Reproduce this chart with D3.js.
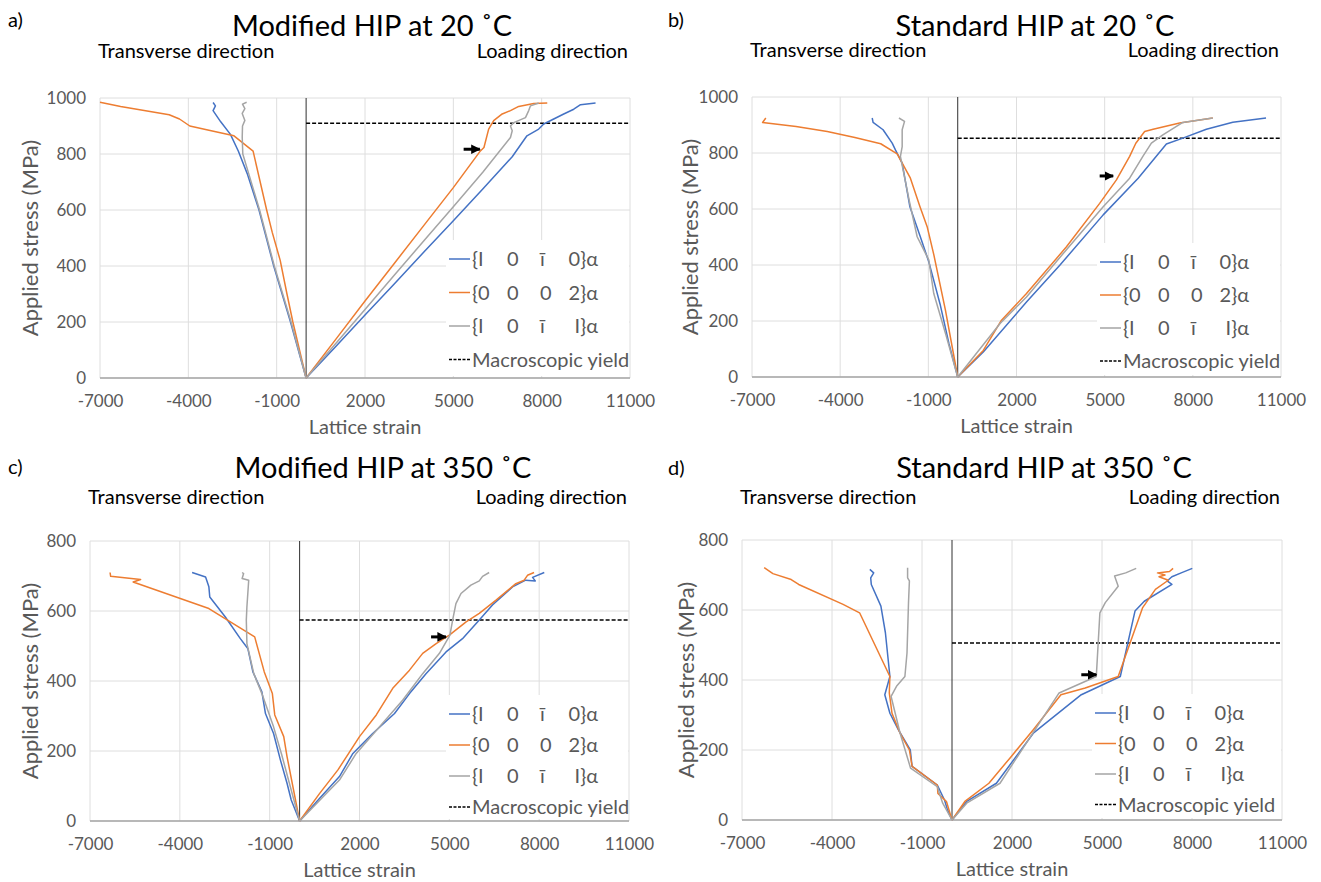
<!DOCTYPE html>
<html>
<head>
<meta charset="utf-8">
<script src="https://cdn.jsdelivr.net/npm/d3@7/dist/d3.min.js"></script>
<style>
  body { margin: 0; background: #fff; }
  svg { font-family: Lato, "Open Sans", sans-serif; }
</style>
</head>
<body>
<svg id="fig" width="1321" height="882"></svg>
<script>
var xTicks = [-7000, -4000, -1000, 2000, 5000, 8000, 11000];
var seriesKeys = ["1010", "0002", "1011"];
var seriesColors = ["#4472C4", "#ED7D31", "#A5A5A5"];
var legendRows = [["{I", "0", "ī", "0}α"], ["{0", "0", "0", "2}α"], ["{I", "0", "ī", "I}α"]];
var legendYield = "Macroscopic yield";

// a) Modified HIP at 20 C  [strain, stress]
var aTr1010 = [[0,0],[-530,200],[-1100,400],[-1600,600],[-2000,730],[-2300,810],[-2570,870],[-2900,915],[-3160,955],[-3080,972],[-3160,984]];
var aTr0002 = [[0,0],[-450,200],[-650,300],[-880,420],[-1150,520],[-1340,600],[-1800,810],[-2450,865],[-3300,885],[-3950,900],[-4300,925],[-4650,940],[-6300,970],[-7000,985]];
var aTr1011 = [[0,0],[-510,200],[-1080,400],[-1580,600],[-1950,730],[-2150,800],[-2170,860],[-2160,900],[-2080,920],[-2170,945],[-2080,962],[-2160,978],[-2020,985]];
var aLd1010 = [[0,0],[1000,112],[2000,225],[3000,337],[4000,450],[5000,562],[6000,675],[7000,790],[7500,865],[7900,889],[8070,907],[8410,925],[8750,943],[9090,960],[9320,976],[9830,982]];
var aLd0002 = [[0,0],[1000,137],[2000,275],[3000,410],[4000,545],[5000,680],[5920,811],[6040,823],[6200,889],[6370,919],[6660,943],[6940,955],[7220,970],[7730,980],[8190,982]];
var aLd1011 = [[0,0],[1000,122],[2000,245],[3000,368],[4000,490],[5000,612],[6000,735],[6940,859],[7000,883],[6940,900],[7050,912],[7450,930],[7560,955],[7620,972],[7900,982]];
var aYield = 910;
var aArrow = [[5350,817],[5900,817]];

// b) Standard HIP at 20 C
var bTr1010 = [[0,0],[-300,120],[-600,260],[-985,412],[-1270,500],[-1630,609],[-1890,764],[-2120,811],[-2230,835],[-2540,883],[-2880,909],[-2910,925]];
var bTr0002 = [[0,0],[-420,240],[-820,440],[-1040,537],[-1290,610],[-1610,710],[-2060,797],[-2620,833],[-3500,855],[-4440,877],[-5500,895],[-6640,909],[-6530,925]];
var bTr1011 = [[0,0],[-400,150],[-815,298],[-985,418],[-1380,501],[-1650,630],[-1950,788],[-1890,823],[-1890,883],[-1810,913],[-2000,925]];
var bLd1010 = [[0,0],[870,89],[2340,268],[3480,400],[4950,579],[6140,710],[7100,832],[7660,853],[8460,885],[9360,910],[10490,925]];
var bLd0002 = [[0,0],[870,95],[1490,203],[2340,298],[3700,465],[4830,620],[5400,704],[5850,788],[6060,835],[6360,877],[6650,885],[7550,907],[8120,916],[8680,925]];
var bLd1011 = [[0,0],[1440,191],[2340,286],[3590,441],[4950,608],[5850,710],[6300,788],[6590,835],[6980,865],[7660,909],[8680,925]];
var bYield = 853;
var bArrow = [[4830,718],[5290,718]];

// c) Modified HIP at 350 C
var cTr1010 = [[0,0],[-280,60],[-420,108],[-640,174],[-870,250],[-1140,307],[-1260,369],[-1560,426],[-1730,493],[-1980,521],[-2480,583],[-3000,640],[-3030,669],[-3140,697],[-3590,710]];
var cTr0002 = [[0,0],[-420,184],[-530,241],[-830,303],[-910,364],[-1180,426],[-1500,526],[-3030,607],[-5560,683],[-5310,690],[-6310,699],[-6330,710]];
var cTr1011 = [[0,0],[-310,98],[-600,190],[-870,269],[-1260,364],[-1530,421],[-1760,507],[-1780,574],[-1760,612],[-1700,688],[-1920,693],[-1870,707],[-1920,710]];
var cLd1010 = [[0,0],[670,65],[1330,127],[1780,193],[2440,250],[3170,307],[3670,364],[4220,421],[4890,483],[5440,521],[6000,574],[6440,617],[7110,669],[7550,688],[7870,686],[7780,696],[8170,710]];
var cLd0002 = [[0,0],[670,79],[1280,146],[2000,241],[2560,303],[3110,379],[3670,431],[4110,479],[4560,507],[5000,531],[5560,569],[6000,593],[6560,631],[7220,678],[7500,688],[7610,702],[7830,710]];
var cLd1011 = [[0,0],[1330,117],[1890,193],[2670,269],[3440,345],[4110,421],[4670,479],[5020,531],[5110,574],[5220,621],[5390,650],[5720,674],[6000,686],[6110,699],[6330,710]];
var cYield = 574;
var cArrow = [[4390,526],[4890,526]];

// d) Standard HIP at 350 C
var dTr1010 = [[0,0],[-150,29],[-250,57],[-490,100],[-1330,153],[-1390,200],[-1790,258],[-2070,305],[-2240,358],[-2070,410],[-2220,535],[-2370,611],[-2690,673],[-2710,692],[-2610,706],[-2740,716]];
var dTr0002 = [[0,0],[-185,53],[-470,76],[-490,100],[-1330,153],[-1420,200],[-1730,248],[-2000,305],[-2090,363],[-2070,410],[-3080,592],[-3630,616],[-5110,673],[-5360,687],[-5970,704],[-6260,721]];
var dTr1011 = [[0,0],[-310,48],[-490,95],[-1380,148],[-1730,248],[-2030,353],[-1850,382],[-1570,410],[-1500,477],[-1450,621],[-1420,683],[-1480,692],[-1480,721]];
var dLd1010 = [[0,0],[490,53],[1480,105],[2710,248],[4310,358],[5610,410],[6100,597],[6410,625],[7330,673],[7170,683],[7330,695],[7640,706],[8010,719]];
var dLd0002 = [[0,0],[430,53],[1230,105],[1970,181],[2710,258],[3630,358],[4440,377],[5540,410],[6350,606],[6780,659],[7210,685],[6900,695],[7100,700],[6850,706],[7250,710],[7370,719]];
var dLd1011 = [[0,0],[490,48],[1600,105],[3570,363],[4810,410],[4930,592],[5110,621],[5540,668],[5420,697],[5790,706],[6140,719]];
var dYield = 506;
var dArrow = [[4310,415],[4810,415]];

var panels = [
  {label: "a)", title: "Modified HIP at 20 ˚C", yMax: 1000, left: 100, right: 630, top: 98, bottom: 378,
   ox: 0, oy: 0, titleX: 372, titleY: 36, subY: 58, ylabX: 30, legX: 446, legY: 240, legRow: 33.5,
   series: [[aTr1010, aLd1010], [aTr0002, aLd0002], [aTr1011, aLd1011]], yld: aYield, arrow: aArrow},
  {label: "b)", title: "Standard HIP at 20 ˚C", yMax: 1000, left: 752, right: 1281, top: 97, bottom: 377,
   ox: 660, oy: 0, titleX: 1035, titleY: 36, subY: 57, ylabX: 690, legX: 1097, legY: 243, legRow: 33,
   series: [[bTr1010, bLd1010], [bTr0002, bLd0002], [bTr1011, bLd1011]], yld: bYield, arrow: bArrow},
  {label: "c)", title: "Modified HIP at 350 ˚C", yMax: 800, left: 90, right: 629, top: 541, bottom: 821,
   ox: 0, oy: 447, titleX: 383, titleY: 478, subY: 504, ylabX: 30, legX: 446, legY: 695, legRow: 31,
   series: [[cTr1010, cLd1010], [cTr0002, cLd0002], [cTr1011, cLd1011]], yld: cYield, arrow: cArrow},
  {label: "d)", title: "Standard HIP at 350 ˚C", yMax: 800, left: 742, right: 1282, top: 540, bottom: 820,
   ox: 660, oy: 448, titleX: 1044, titleY: 478, subY: 504, ylabX: 686, legX: 1092, legY: 694, legRow: 30.5,
   series: [[dTr1010, dLd1010], [dTr0002, dLd0002], [dTr1011, dLd1011]], yld: dYield, arrow: dArrow}
];

var svg = d3.select("#fig");

svg.append("defs").append("marker")
  .attr("id", "arrowHead")
  .attr("viewBox", "0 0 10 10")
  .attr("refX", 9).attr("refY", 5)
  .attr("markerWidth", 3.2).attr("markerHeight", 3.2)
  .attr("orient", "auto")
  .append("path")
  .attr("d", "M0,0 L10,5 L0,10 z")
  .attr("fill", "#000");

function drawPanel(p) {
  var x = d3.scaleLinear().domain([-7000, 11000]).range([p.left, p.right]);
  var y = d3.scaleLinear().domain([0, p.yMax]).range([p.bottom, p.top]);
  var yTicks = d3.range(0, p.yMax + 1, 200);

  var g = svg.append("g").attr("class", "panel");

  // grid
  g.append("g").selectAll("line").data(xTicks).enter().append("line")
    .attr("x1", function(d) { return x(d); }).attr("x2", function(d) { return x(d); })
    .attr("y1", p.top).attr("y2", p.bottom)
    .attr("stroke", "#dedede").attr("stroke-width", 1);
  g.append("g").selectAll("line").data(yTicks).enter().append("line")
    .attr("x1", p.left).attr("x2", p.right)
    .attr("y1", function(d) { return y(d); }).attr("y2", function(d) { return y(d); })
    .attr("stroke", "#dedede").attr("stroke-width", 1);

  g.append("line")
    .attr("x1", p.left).attr("x2", p.right)
    .attr("y1", p.bottom).attr("y2", p.bottom)
    .attr("stroke", "#a6a6a6").attr("stroke-width", 1.5);

  var fmt = function(d) { return String(d); };  // plain hyphen like the original
  var xAxis = g.append("g")
    .attr("transform", "translate(0," + p.bottom + ")")
    .call(d3.axisBottom(x).tickValues(xTicks).tickSize(0).tickPadding(17).tickFormat(fmt));
  var yAxis = g.append("g")
    .attr("transform", "translate(" + p.left + ",0)")
    .call(d3.axisLeft(y).tickValues(yTicks).tickSize(0).tickPadding(14).tickFormat(fmt));
  [xAxis, yAxis].forEach(function(a) {
    a.select(".domain").remove();
    a.selectAll("text")
      .attr("fill", "#595959")
      .style("font-size", "17px")
      .style("font-family", "Lato, 'Open Sans', sans-serif");
  });

  // zero strain line
  g.append("line")
    .attr("x1", x(0)).attr("x2", x(0))
    .attr("y1", p.top).attr("y2", p.bottom)
    .attr("stroke", "#303030").attr("stroke-width", 1);

  // macroscopic yield
  g.append("line")
    .attr("x1", x(0)).attr("x2", p.right)
    .attr("y1", y(p.yld)).attr("y2", y(p.yld))
    .attr("stroke", "#000").attr("stroke-width", 1.5)
    .attr("stroke-dasharray", "4,2");

  var line = d3.line()
    .x(function(d) { return x(d[0]); })
    .y(function(d) { return y(d[1]); });

  p.series.forEach(function(pair, i) {
    pair.forEach(function(arr) {
      g.append("path")
        .datum(arr)
        .attr("d", line)
        .attr("fill", "none")
        .attr("stroke", seriesColors[i])
        .attr("stroke-width", 1.5)
        .attr("stroke-linejoin", "round");
    });
  });

  g.append("path")
    .datum(p.arrow)
    .attr("d", line)
    .attr("stroke", "#000")
    .attr("stroke-width", 3)
    .attr("marker-end", "url(#arrowHead)");

  // legend
  var leg = g.append("g");
  leg.append("rect")
    .attr("x", p.legX).attr("y", p.legY)
    .attr("width", p.right - p.legX - 1).attr("height", p.bottom - p.legY - 2)
    .attr("fill", "#fff");
  var tx = p.legX + 26;
  legendRows.forEach(function(row, i) {
    var cy = p.legY + 19 + i * p.legRow;
    leg.append("line")
      .attr("x1", p.legX + 3).attr("x2", p.legX + 24)
      .attr("y1", cy).attr("y2", cy)
      .attr("stroke", seriesColors[i]).attr("stroke-width", 1.5);
    var offs = [0, 35, 68];
    row.slice(0, 3).forEach(function(s, j) {
      leg.append("text")
        .attr("x", tx + offs[j]).attr("y", cy).attr("dy", "0.35em")
        .attr("fill", "#595959").style("font-size", "20px")
        .text(s);
    });
    leg.append("text")
      .attr("x", tx + 126).attr("y", cy).attr("dy", "0.35em")
      .attr("text-anchor", "end")
      .attr("fill", "#595959").style("font-size", "20px")
      .text(row[3]);
  });
  var ly = p.legY + 19 + 3 * p.legRow;
  leg.append("line")
    .attr("x1", p.legX + 3).attr("x2", p.legX + 24)
    .attr("y1", ly).attr("y2", ly)
    .attr("stroke", "#000").attr("stroke-width", 1.5)
    .attr("stroke-dasharray", "3,1.5");
  leg.append("text")
    .attr("x", tx).attr("y", ly).attr("dy", "0.35em")
    .attr("fill", "#595959").style("font-size", "20px")
    .text(legendYield);

  // texts
  g.append("text")
    .attr("x", p.ox + 8).attr("y", p.oy + 27)
    .style("font-size", "20px").attr("fill", "#000")
    .text(p.label);
  g.append("text")
    .attr("x", p.titleX).attr("y", p.titleY)
    .attr("text-anchor", "middle")
    .style("font-size", "29px").attr("fill", "#000")
    .text(p.title);
  g.append("text")
    .attr("x", p.left - 2).attr("y", p.subY)
    .style("font-size", "20px").attr("fill", "#000")
    .text("Transverse direction");
  g.append("text")
    .attr("x", p.right - 2).attr("y", p.subY)
    .attr("text-anchor", "end")
    .style("font-size", "20px").attr("fill", "#000")
    .text("Loading direction");
  g.append("text")
    .attr("x", (p.left + p.right) / 2).attr("y", p.bottom + 56)
    .attr("text-anchor", "middle")
    .style("font-size", "20px").attr("fill", "#595959")
    .text("Lattice strain");
  g.append("text")
    .attr("transform", "translate(" + p.ylabX + "," + ((p.top + p.bottom) / 2) + ") rotate(-90)")
    .attr("text-anchor", "middle").attr("dy", "0.35em")
    .style("font-size", "22px").attr("fill", "#595959")
    .text("Applied stress (MPa)");
}

panels.forEach(drawPanel);
</script>
</body>
</html>
